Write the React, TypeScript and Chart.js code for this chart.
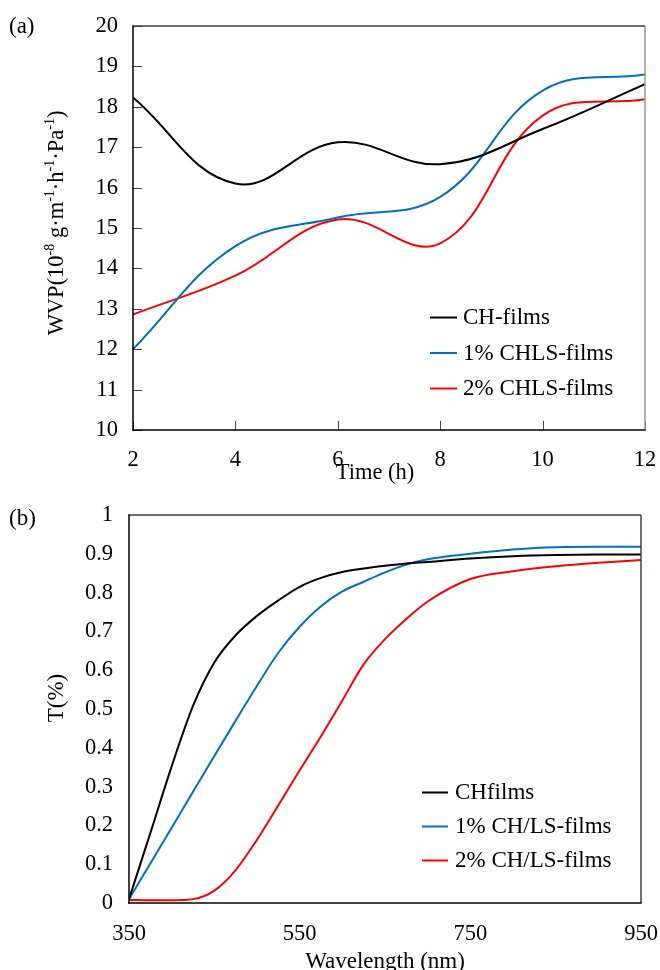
import React, { useEffect, useRef } from "react";
import { Chart, registerables } from "chart.js";

Chart.register(...registerables);

const SERIF = "'Liberation Serif', 'Times New Roman', Times, serif";
const COLORS = ["#000000", "#0070C0", "#FF0000"];

// ---------- Panel (a): WVP vs time ----------
const timeHours = [2, 4, 6, 8, 10, 12];
const wvpCH = [18.23, 16.1, 17.12, 16.58, 17.45, 18.56];
const wvpCHLS1 = [12.0, 14.55, 15.26, 15.77, 18.4, 18.8];
const wvpCHLS2 = [12.86, 13.82, 15.21, 14.62, 17.78, 18.19];
const wvpNames = ["CH-films", "1% CHLS-films", "2% CHLS-films"];
const timeRange = [2, 12];
const timeStep = 2;
const wvpRange = [10, 20];
const wvpStep = 1;

// ---------- Panel (b): transmittance vs wavelength ----------
const wavelengths = [350, 375, 400, 425, 450, 475, 500, 525, 550, 575, 600, 625, 650, 675, 700, 750, 800, 850, 900, 950];
const tCH = [0.01, 0.18, 0.352, 0.508, 0.62, 0.69, 0.74, 0.78, 0.815, 0.838, 0.853, 0.862, 0.869, 0.875, 0.879, 0.888, 0.894, 0.897, 0.898, 0.898];
const tCHLS1 = [0.01, 0.102, 0.194, 0.287, 0.379, 0.47, 0.56, 0.645, 0.712, 0.765, 0.803, 0.828, 0.852, 0.872, 0.886, 0.9, 0.911, 0.917, 0.918, 0.918];
const tCHLS2 = [0.008, 0.007, 0.007, 0.01, 0.032, 0.085, 0.163, 0.252, 0.342, 0.43, 0.522, 0.615, 0.68, 0.732, 0.777, 0.835, 0.855, 0.868, 0.877, 0.884];
const tNames = ["CHfilms", "1% CH/LS-films", "2% CH/LS-films"];
const wlRange = [350, 950];
const wlStep = 200;
const tRange = [0, 1];
const tStep = 0.1;

type Seg = [string, boolean];

const decoPlugin = {
  id: "deco",
  afterDraw(chart: any, _args: any, o: any) {
    const ctx: CanvasRenderingContext2D = chart.ctx;
    const a = chart.chartArea;
    const line = (x1: number, y1: number, x2: number, y2: number, c: string, w: number) => {
      ctx.beginPath();
      ctx.strokeStyle = c;
      ctx.lineWidth = w;
      ctx.moveTo(x1, y1);
      ctx.lineTo(x2, y2);
      ctx.stroke();
    };
    ctx.save();
    // inward tick marks
    if (o.tickLen) {
      const xs = chart.scales.x;
      const ys = chart.scales.y;
      for (const t of xs.ticks) {
        const px = Math.round(xs.getPixelForValue(t.value)) + 0.5;
        line(px, a.bottom, px, a.bottom - o.tickLen, o.tickColor, 1);
      }
      for (const t of ys.ticks) {
        const py = Math.round(ys.getPixelForValue(t.value)) + 0.5;
        line(a.left, py, a.left + o.tickLen, py, o.tickColor, 1);
      }
    }
    // frame
    line(a.left, a.top, a.right, a.top, o.topColor, 1.3);
    line(a.right, a.top, a.right, a.bottom, o.rightColor, 1.5);
    line(a.left, a.top - 0.7, a.left, a.bottom + 0.7, "#000", 1.5);
    line(a.left - 0.7, a.bottom, a.right + 0.7, a.bottom, "#000", 1.5);

    ctx.fillStyle = "#000";
    // panel label
    ctx.font = `${o.panelSize}px ${SERIF}`;
    ctx.textAlign = "left";
    ctx.textBaseline = "alphabetic";
    ctx.fillText(o.panel, o.panelX, o.panelY);

    // x title
    ctx.font = `${o.titleSize}px ${SERIF}`;
    ctx.textAlign = "center";
    ctx.fillText(o.xTitle, o.xTitleX, o.xTitleY);

    // y title (rotated, with superscripts)
    const segs: Seg[] = o.yTitle;
    const big = `${o.titleSize}px ${SERIF}`;
    const small = `${Math.round(o.titleSize * 0.6)}px ${SERIF}`;
    let total = 0;
    for (const [s, sup] of segs) {
      ctx.font = sup ? small : big;
      total += ctx.measureText(s).width;
    }
    ctx.translate(o.yTitleX, o.yTitleY);
    ctx.rotate(-Math.PI / 2);
    ctx.textAlign = "left";
    let cx = -total / 2;
    for (const [s, sup] of segs) {
      ctx.font = sup ? small : big;
      ctx.fillText(s, cx, sup ? -o.titleSize * 0.4 : 0);
      cx += ctx.measureText(s).width;
    }
    ctx.setTransform(1, 0, 0, 1, 0, 0);

    // legend
    ctx.font = `${o.legendSize}px ${SERIF}`;
    ctx.textAlign = "left";
    ctx.textBaseline = "middle";
    chart.data.datasets.forEach((ds: any, i: number) => {
      const y = o.legendY + i * o.legendGap;
      line(o.legendX, y + 0.5, o.legendX + o.legendLine, y + 0.5, ds.borderColor, 2);
      ctx.fillStyle = "#000";
      ctx.fillText(ds.label, o.legendX + o.legendLine + o.legendTextGap, y + 1);
    });
    ctx.restore();
  },
};

function buildConfig(p: any) {
  return {
    type: "line",
    data: {
      datasets: p.series.map((ys: number[], i: number) => ({
        label: p.names[i],
        data: p.xs.map((x: number, j: number) => ({ x, y: ys[j] })),
        borderColor: COLORS[i],
        backgroundColor: COLORS[i],
        borderWidth: 2,
        pointRadius: 0,
        fill: false,
        tension: p.tension,
        cubicInterpolationMode: p.mode,
      })),
    },
    options: {
      responsive: false,
      animation: false,
      events: [],
      layout: {
        autoPadding: false,
        padding: { left: 0, top: p.area.top, right: p.W - p.area.right, bottom: 0 },
      },
      plugins: {
        legend: { display: false },
        tooltip: { enabled: false },
        title: { display: false },
        deco: p.deco,
      },
      scales: {
        x: {
          type: "linear",
          min: p.xRange[0],
          max: p.xRange[1],
          grid: { display: false, drawTicks: false },
          border: { display: false },
          ticks: {
            stepSize: p.xStep,
            color: "#000",
            font: { family: SERIF, size: p.tickSize },
            padding: p.xPad,
            maxRotation: 0,
            autoSkip: false,
          },
          afterFit: (s: any) => {
            s.height = p.H - p.area.bottom;
            s.paddingLeft = 0;
            s.paddingRight = 0;
          },
        },
        y: {
          type: "linear",
          min: p.yRange[0],
          max: p.yRange[1],
          grid: { display: false, drawTicks: false },
          border: { display: false },
          ticks: {
            stepSize: p.yStep,
            color: "#000",
            font: { family: SERIF, size: p.tickSize },
            padding: p.yPad,
            autoSkip: false,
            callback: (v: any) => String(Math.round(Number(v) * 10) / 10),
          },
          afterFit: (s: any) => {
            s.width = p.area.left;
            s.paddingTop = 0;
            s.paddingBottom = 0;
          },
        },
      },
    },
    plugins: [decoPlugin],
  };
}

function ChartCanvas({ cfg, W, H, top }: { cfg: any; W: number; H: number; top: number }) {
  const ref = useRef<HTMLCanvasElement | null>(null);
  useEffect(() => {
    if (!ref.current) return;
    const chart = new Chart(ref.current, cfg);
    return () => chart.destroy();
  }, [cfg]);
  return (
    <canvas
      ref={ref}
      width={W}
      height={H}
      style={{ position: "absolute", left: 0, top, width: W, height: H, display: "block" }}
    />
  );
}

const cfgA = buildConfig({
  W: 660,
  H: 490,
  area: { left: 133, right: 645, top: 26, bottom: 430 },
  xs: timeHours,
  series: [wvpCH, wvpCHLS1, wvpCHLS2],
  names: wvpNames,
  tension: 0.4,
  mode: "default",
  xRange: timeRange,
  xStep: timeStep,
  yRange: wvpRange,
  yStep: wvpStep,
  tickSize: 22.5,
  xPad: 17,
  yPad: 15,
  deco: {
    tickLen: 9,
    tickColor: "#444",
    topColor: "#404040",
    rightColor: "#9a9a9a",
    panel: "(a)",
    panelX: 9,
    panelY: 33,
    panelSize: 23,
    titleSize: 22.5,
    xTitle: "Time (h)",
    xTitleX: 375,
    xTitleY: 479,
    yTitle: [
      ["WVP(10", false],
      ["-8", true],
      [" g·m", false],
      ["-1", true],
      ["·h", false],
      ["-1", true],
      ["·Pa", false],
      ["-1", true],
      [")", false],
    ],
    yTitleX: 63,
    yTitleY: 223,
    legendX: 430,
    legendY: 317,
    legendGap: 35.5,
    legendLine: 27,
    legendTextGap: 6,
    legendSize: 23,
  },
});

const cfgB = buildConfig({
  W: 660,
  H: 480,
  area: { left: 129, right: 641, top: 25, bottom: 413 },
  xs: wavelengths,
  series: [tCH, tCHLS1, tCHLS2],
  names: tNames,
  tension: 0.4,
  mode: "monotone",
  xRange: wlRange,
  xStep: wlStep,
  yRange: tRange,
  yStep: tStep,
  tickSize: 22.5,
  xPad: 18,
  yPad: 16,
  deco: {
    tickLen: 0,
    tickColor: "#444",
    topColor: "#404040",
    rightColor: "#404040",
    panel: "(b)",
    panelX: 9,
    panelY: 35,
    panelSize: 23,
    titleSize: 23,
    xTitle: "Wavelength (nm)",
    xTitleX: 385,
    xTitleY: 478,
    yTitle: [["T(%)", false]],
    yTitleX: 63,
    yTitleY: 208,
    legendX: 422,
    legendY: 302,
    legendGap: 34,
    legendLine: 26,
    legendTextGap: 7,
    legendSize: 23,
  },
});

export default function App() {
  return (
    <div style={{ position: "absolute", left: 0, top: 0, width: 660, height: 970, background: "#fff", overflow: "hidden" }}>
      <ChartCanvas cfg={cfgA} W={660} H={490} top={0} />
      <ChartCanvas cfg={cfgB} W={660} H={480} top={490} />
    </div>
  );
}
